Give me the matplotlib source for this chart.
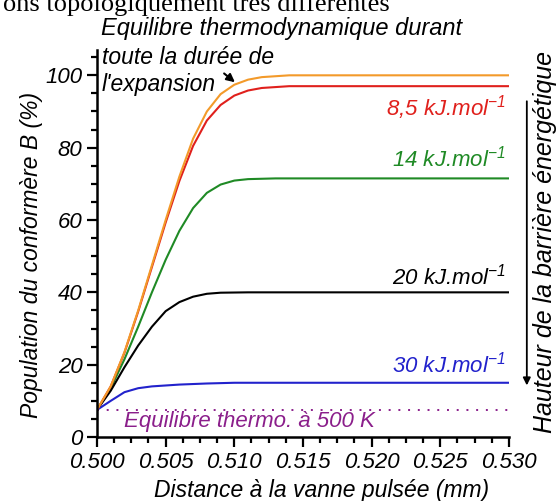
import matplotlib.pyplot as plt
from matplotlib.ticker import MultipleLocator

plt.rcParams['font.family'] = ['Liberation Sans', 'DejaVu Sans']
plt.rcParams['font.style'] = 'italic'
plt.rcParams['mathtext.fontset'] = 'custom'
plt.rcParams['mathtext.rm'] = 'Liberation Sans:italic'
plt.rcParams['mathtext.it'] = 'Liberation Sans:italic'

# curves (distance in mm, population in %)
x_orange = [0.500, 0.501, 0.502, 0.503, 0.504, 0.505, 0.506, 0.507, 0.508, 0.509, 0.510, 0.511, 0.512, 0.514, 0.530]
y_orange = [7.5, 14.0, 23.5, 35.0, 47.5, 60.0, 72.0, 82.5, 90.0, 94.8, 97.4, 98.8, 99.5, 100.0, 100.0]

x_red = [0.500, 0.501, 0.502, 0.503, 0.504, 0.505, 0.506, 0.507, 0.508, 0.509, 0.510, 0.511, 0.512, 0.514, 0.530]
y_red = [7.5, 14.0, 23.3, 34.7, 47.0, 59.3, 70.8, 80.5, 87.5, 91.8, 94.4, 95.8, 96.5, 97.0, 97.0]

x_green = [0.500, 0.501, 0.502, 0.503, 0.504, 0.505, 0.506, 0.507, 0.508, 0.509, 0.510, 0.511, 0.513, 0.530]
y_green = [7.5, 13.5, 21.5, 30.5, 40.0, 49.0, 57.0, 63.3, 67.5, 69.8, 70.9, 71.3, 71.5, 71.5]

x_black = [0.500, 0.501, 0.502, 0.503, 0.504, 0.505, 0.506, 0.507, 0.508, 0.509, 0.511, 0.530]
y_black = [7.5, 12.8, 19.3, 25.3, 30.5, 34.8, 37.3, 38.8, 39.6, 39.9, 40.0, 40.0]

x_blue = [0.500, 0.501, 0.502, 0.503, 0.504, 0.506, 0.508, 0.510, 0.530]
y_blue = [7.5, 10.0, 12.4, 13.5, 14.0, 14.5, 14.8, 15.0, 15.0]

eq_500K = 7.5

labels = ["8,5 kJ.mol$^{-1}$", "14 kJ.mol$^{-1}$", "20 kJ.mol$^{-1}$", "30 kJ.mol$^{-1}$"]
label_y = [91.0, 77.0, 44.5, 20.0]
label_colors = ["#e0201c", "#1f8a25", "black", "#2222cc"]

fig = plt.figure(figsize=(5.59, 5.01), dpi=100)
ax = fig.add_axes([0.1735, 0.1277, 0.737, 0.7725])

ax.plot(x_green, y_green, color="#1f8a25", lw=1.5)
ax.plot(x_black, y_black, color="black", lw=1.5)
ax.plot(x_blue, y_blue, color="#2222cc", lw=1.5)
ax.plot(x_red, y_red, color="#e0201c", lw=1.5)
ax.plot(x_orange, y_orange, color="#f39a2a", lw=1.5)
ax.plot([0.500, 0.530], [eq_500K, eq_500K], color="#8b1f8b", lw=1.4, ls=(0, (1, 4)))

ax.set_xlim(0.500, 0.530)
ax.set_ylim(0, 107)
ax.spines["top"].set_visible(False)
ax.spines["right"].set_visible(False)
ax.spines["left"].set_linewidth(1.8)
ax.spines["bottom"].set_linewidth(1.8)
ax.xaxis.set_major_locator(MultipleLocator(0.005))
ax.xaxis.set_minor_locator(MultipleLocator(0.00125))
ax.yaxis.set_major_locator(MultipleLocator(20))
ax.yaxis.set_minor_locator(MultipleLocator(5))
ax.tick_params(which="major", length=7, width=1.6, labelsize=16)
ax.tick_params(which="minor", length=4, width=1.6)
ax.xaxis.set_major_formatter(plt.FormatStrFormatter("%.3f"))
ax.set_xlabel("Distance à la vanne pulsée (mm)", fontsize=16.5)
ax.xaxis.set_label_coords(0.544, -0.137)
ax.xaxis.label.set_va("center")
ax.set_ylabel("Population du conformère B (%)", fontsize=16.5)
ax.yaxis.set_label_coords(-0.158, 0.47)
ax.yaxis.label.set_va("center")

for txt, yy, c in zip(labels, label_y, label_colors):
    ax.text(0.5298, yy, txt, color=c, fontsize=16, ha="right", va="center")

ax.text(0.5020, 4.3, "Equilibre thermo. à 500 K", color="#8b1f8b", fontsize=16, va="center")

ax.text(0.50036, 105.0, "toute la durée de", fontsize=16.5, va="center", clip_on=False)
ax.text(0.50036, 97.5, "l'expansion", fontsize=16.5, va="center")
ax.annotate("", xy=(0.5102, 97.6), xytext=(0.5091, 101.0),
            arrowprops=dict(arrowstyle="-|>", color="black", lw=1.5, mutation_scale=12))

ax.annotate("", xy=(0.5313, 13.5), xytext=(0.5313, 93.6), annotation_clip=False,
            arrowprops=dict(arrowstyle="-|>", color="black", lw=1.3, mutation_scale=11))
fig.text(0.975, 0.517, "Hauteur de la barrière énergétique", rotation=90, fontsize=18,
         ha="center", va="center")

fig.text(0.18, 0.944, "Equilibre thermodynamique durant", fontsize=17, ha="left", va="center")
fig.text(0.006, 0.979, "ons topologiquement très différentes", family="Liberation Serif",
         style="normal", fontsize=19, ha="left", va="baseline")

fig.savefig("out.png", dpi=100)
